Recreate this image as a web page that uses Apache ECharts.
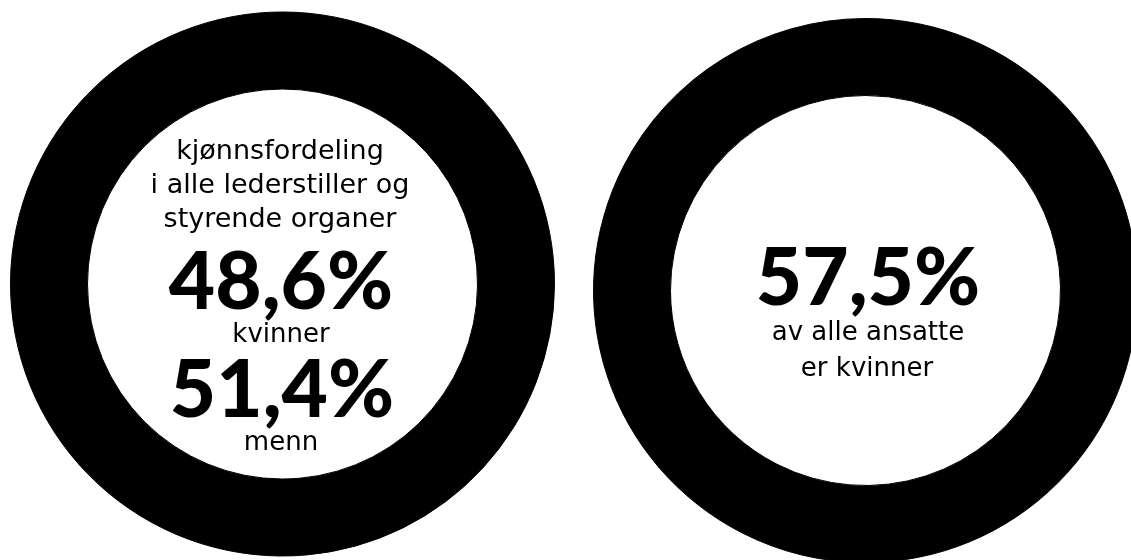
<!DOCTYPE html>
<html>
<head>
<meta charset="utf-8">
<script src="https://cdn.jsdelivr.net/npm/echarts@6/dist/echarts.min.js"></script>
<style>
html,body{margin:0;padding:0;background:#fff;}
#chart{width:1131px;height:560px;}
</style>
</head>
<body>
<div id="chart"></div>
<script>
// Data
var leaderCategories = ['kvinner', 'menn'];
var leaderValues = [48.6, 51.4];
var staffCategories = ['kvinner', 'menn'];
var staffValues = [57.5, 42.5];

var leaderTitleLines = ['kjønnsfordeling', 'i alle lederstiller og', 'styrende organer'];
var leaderLabels = ['48,6%', 'kvinner', '51,4%', 'menn'];
var staffLabels = ['57,5%', 'av alle ansatte', 'er kvinner'];

var chart = echarts.init(document.getElementById('chart'), null, {renderer: 'canvas'});

function pieData(cats, vals) {
  return cats.map(function (c, i) { return {name: c, value: vals[i]}; });
}

var regFont = '"DejaVu Sans", sans-serif';
var boldFont = '"Lato", "Inter", sans-serif';

function txt(text, x, y, size, weight) {
  return {
    type: 'text',
    x: x, y: y,
    style: {
      text: text,
      fill: '#000',
      font: weight + ' ' + size + 'px ' + (weight >= 700 ? boldFont : regFont),
      textAlign: 'center',
      textVerticalAlign: 'middle'
    },
    silent: true
  };
}

var ring = {
  type: 'pie',
  startAngle: 90,
  label: {show: false},
  labelLine: {show: false},
  itemStyle: {color: '#000', borderColor: '#000', borderWidth: 1},
  emphasis: {disabled: true}
};

var option = {
  backgroundColor: '#ffffff',
  animation: false,
  series: [
    Object.assign({}, ring, {
      center: [282.5, 284],
      radius: [195, 272],
      data: pieData(leaderCategories, leaderValues)
    }),
    Object.assign({}, ring, {
      center: [865.5, 290.5],
      radius: [195, 272],
      data: pieData(staffCategories, staffValues)
    })
  ],
  graphic: [
    txt(leaderTitleLines[0], 280, 152, 27, 400),
    txt(leaderTitleLines[1], 280, 186, 27, 400),
    txt(leaderTitleLines[2], 280, 220, 27, 400),
    txt(leaderLabels[0], 281, 283, 80, 900),
    txt(leaderLabels[1], 281, 335, 26, 400),
    txt(leaderLabels[2], 282, 391, 80, 900),
    txt(leaderLabels[3], 281, 443, 26, 400),
    txt(staffLabels[0], 868, 279, 80, 900),
    txt(staffLabels[1], 868, 333, 26, 400),
    txt(staffLabels[2], 867, 369, 26, 400)
  ]
};
chart.setOption(option);
</script>
</body>
</html>
